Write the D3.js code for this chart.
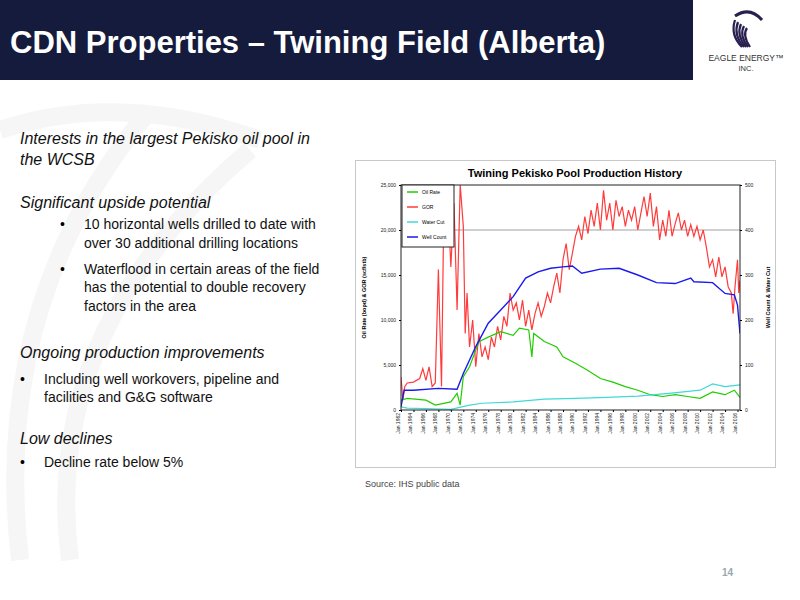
<!DOCTYPE html>
<html>
<head>
<meta charset="utf-8">
<script src="https://cdn.jsdelivr.net/npm/d3@7"></script>
<style>
  body { margin: 0; background: #fff; }
  svg { display: block; font-family: "Liberation Sans", Arial, sans-serif; }
</style>
</head>
<body>
<svg id="slide" width="800" height="600"></svg>
<script>
// Series: [year, value]
const oilRate = [[1962,1100],[1963,1300],[1966,1100],[1967.5,550],[1970,900],[1971,1850],[1971.5,550],[1972,3700],[1973,4800],[1974.5,7600],[1976,8100],[1978,8700],[1980,8300],[1981,9100],[1982.5,8900],[1983,5900],[1983.3,8500],[1985,7600],[1987,7000],[1988,5900],[1990,5200],[1992,4400],[1994,3500],[1996,3100],[1998,2600],[2000,2200],[2002,1700],[2004,1500],[2006,1700],[2008,1500],[2010,1300],[2012,2000],[2014,1700],[2015.5,2200],[2016.4,1400]];
const gor = [[1962,3700],[1962.3,1100],[1962.6,2600],[1963,3000],[1964,3100],[1965,3500],[1965.5,4600],[1966,3300],[1966.5,4800],[1967,2600],[1967.5,3000],[1968,15600],[1968.5,2600],[1968.8,18500],[1969,20400],[1969.5,23700],[1970,15900],[1970.5,23000],[1971,11100],[1971.5,25000],[1972,20400],[1972.3,8500],[1972.6,13000],[1973,7000],[1973.5,10000],[1974,4800],[1974.5,8500],[1975,5900],[1975.5,7000],[1976,5600],[1976.5,8100],[1977,7000],[1977.5,9300],[1978,7800],[1978.5,10400],[1979,9300],[1979.5,13000],[1980,11100],[1980.5,11900],[1981,10000],[1981.5,12200],[1982,9300],[1982.5,11100],[1983,8900],[1983.5,10700],[1984,11900],[1984.5,10400],[1985,11500],[1985.5,13000],[1986,11900],[1986.5,13700],[1987,15200],[1987.5,13000],[1988,16700],[1988.5,18500],[1989,15600],[1989.5,17400],[1990,19300],[1990.5,20400],[1991,18900],[1991.5,21500],[1992,19600],[1992.5,22200],[1993,20400],[1993.5,23000],[1994,20000],[1994.5,24400],[1995,21100],[1995.5,23000],[1996,20000],[1996.5,23300],[1997,21500],[1997.5,22600],[1998,20400],[1998.5,22200],[1999,21100],[1999.5,22600],[2000,20000],[2000.5,21900],[2001,23700],[2001.5,21500],[2002,24100],[2002.5,20400],[2003,22600],[2003.5,18900],[2004,21100],[2004.5,19300],[2005,22200],[2005.5,19300],[2006,20700],[2006.5,21900],[2007,20000],[2007.5,21100],[2008,19300],[2008.5,20600],[2009,19300],[2009.5,20400],[2010,18900],[2010.5,20000],[2011,18100],[2011.5,15900],[2012,16700],[2012.5,14800],[2013,17000],[2013.5,14800],[2014,15900],[2014.5,13700],[2015,13000],[2015.3,10700],[2015.6,13700],[2016,16700],[2016.2,13000],[2016.4,14400]];
const waterCut = [[1962,7],[1963,4],[1970,1.5],[1973,11],[1975,15],[1980,18],[1985,24],[1990,26],[1995,28],[2000,31],[2005,37],[2010,44],[2012,58],[2014,52],[2016.4,56]];
const wellCount = [[1962,7],[1962.5,44],[1964,44],[1968,48],[1971,46],[1972,81],[1974,141],[1976,193],[1978,222],[1980,252],[1982,293],[1984,307],[1986,315],[1988,318],[1989.5,320],[1991,304],[1994,313],[1997,315],[2000,300],[2003,283],[2006,281],[2008.5,293],[2009,285],[2012,283],[2014,259],[2015.5,256],[2016,233],[2016.4,170]];
const leftTicks = [0, 5000, 10000, 15000, 20000, 25000];
const rightTicks = [0, 100, 200, 300, 400, 500];
const yearTicks = d3.range(1962, 2017, 2);
const legendNames = ["Oil Rate", "GOR", "Water Cut", "Well Count"];
const legendColors = ["#22cc00", "#ff3b3b", "#40d8d8", "#1a1aee"];

const svg = d3.select("#slide");

// header band
svg.append("rect").attr("width", 693).attr("height", 80).attr("fill", "#141b3c");
svg.append("text").attr("x", 10).attr("y", 53).attr("fill", "#fff")
  .attr("font-size", 31).attr("font-weight", "bold")
  .text("CDN Properties \u2013 Twining Field (Alberta)");
svg.append("text").attr("x", 746).attr("y", 61).attr("text-anchor", "middle")
  .attr("font-size", 8.5).attr("fill", "#333").text("EAGLE ENERGY\u2122");
svg.append("text").attr("x", 746).attr("y", 71).attr("text-anchor", "middle")
  .attr("font-size", 7.5).attr("fill", "#333").text("INC.");
// simple eagle mark
const eagle = svg.append("g").attr("fill", "none").attr("stroke", "#2a2050").attr("stroke-width", 2.2);
[0, 1, 2, 3, 4].forEach(i => {
  eagle.append("path").attr("d", `M${735 + i * 3},${20 + i * 2} Q${730 + i * 3},${35} ${742 + i * 2},${47}`);
});
eagle.append("path").attr("d", "M735,16 Q750,6 762,20").attr("stroke-width", 3);

// faint watermark arcs
const wm = svg.append("g").attr("fill", "none").attr("stroke", "#f6f6f6").attr("stroke-width", 18);
wm.append("path").attr("d", "M20,560 Q-10,300 150,110");
wm.append("path").attr("d", "M70,560 Q40,330 250,150");
wm.append("path").attr("d", "M0,130 Q120,90 260,140");

// body text
const txt = [
  { x: 20, y: 144, t: "Interests in the largest Pekisko oil pool in", it: true },
  { x: 20, y: 165, t: "the WCSB", it: true },
  { x: 20, y: 208, t: "Significant upside potential", it: true },
  { x: 84, y: 229, t: "10 horizontal wells drilled to date with", b: 60 },
  { x: 84, y: 248, t: "over 30 additional drilling locations" },
  { x: 84, y: 274, t: "Waterflood in certain areas of the field", b: 60 },
  { x: 84, y: 292, t: "has the potential to double recovery" },
  { x: 84, y: 311, t: "factors in the area" },
  { x: 20, y: 358, t: "Ongoing production improvements", it: true },
  { x: 44, y: 384, t: "Including well workovers, pipeline and", b: 20 },
  { x: 44, y: 402, t: "facilities and G&G software" },
  { x: 20, y: 444, t: "Low declines", it: true },
  { x: 44, y: 467, t: "Decline rate below 5%", b: 20 }
];
txt.forEach(d => {
  svg.append("text").attr("x", d.x).attr("y", d.y).attr("fill", "#111")
    .attr("font-size", d.it ? 16 : 14).attr("font-style", d.it ? "italic" : "normal")
    .text(d.t);
  if (d.b) svg.append("text").attr("x", d.b).attr("y", d.y).attr("font-size", 14).text("\u2022");
});

// chart frame
svg.append("rect").attr("x", 355.5).attr("y", 160.5).attr("width", 420).attr("height", 307)
  .attr("fill", "#fff").attr("stroke", "#c8c8c8");
svg.append("text").attr("x", 575).attr("y", 177).attr("text-anchor", "middle")
  .attr("font-size", 11).attr("font-weight", "bold").text("Twining Pekisko Pool Production History");

const L = 401, R = 740, T = 185, B = 410;
const x = d3.scaleLinear().domain([1962, 2016.4]).range([L, R]);
const yL = d3.scaleLinear().domain([0, 25000]).range([B, T]);
const yR = d3.scaleLinear().domain([0, 500]).range([B, T]);

svg.append("line").attr("x1", L).attr("x2", R).attr("y1", yL(20000)).attr("y2", yL(20000))
  .attr("stroke", "#888").attr("stroke-width", 0.8);

svg.append("clipPath").attr("id", "pc").append("rect")
  .attr("x", L).attr("y", T).attr("width", R - L).attr("height", B - T);
const plot = svg.append("g").attr("clip-path", "url(#pc)");
const lineL = d3.line().x(d => x(d[0])).y(d => yL(d[1]));
const lineR = d3.line().x(d => x(d[0])).y(d => yR(d[1]));
plot.append("path").datum(gor).attr("d", lineL).attr("fill", "none").attr("stroke", legendColors[1]).attr("stroke-width", 1.2);
plot.append("path").datum(oilRate).attr("d", lineL).attr("fill", "none").attr("stroke", legendColors[0]).attr("stroke-width", 1.2);
plot.append("path").datum(waterCut).attr("d", lineR).attr("fill", "none").attr("stroke", legendColors[2]).attr("stroke-width", 1.2);
plot.append("path").datum(wellCount).attr("d", lineR).attr("fill", "none").attr("stroke", legendColors[3]).attr("stroke-width", 1.4);

svg.append("rect").attr("x", L).attr("y", T).attr("width", R - L).attr("height", B - T)
  .attr("fill", "none").attr("stroke", "#222").attr("stroke-width", 1);

// axes
const axL = svg.append("g").attr("transform", `translate(${L},0)`)
  .call(d3.axisLeft(yL).tickValues(leftTicks).tickSize(2).tickFormat(d3.format(",")));
const axR = svg.append("g").attr("transform", `translate(${R},0)`)
  .call(d3.axisRight(yR).tickValues(rightTicks).tickSize(2).tickFormat(d3.format("d")));
const axB = svg.append("g").attr("transform", `translate(0,${B})`)
  .call(d3.axisBottom(x).tickValues(yearTicks).tickSize(2).tickFormat(d => "Jan " + d));
[axL, axR, axB].forEach(a => {
  a.select(".domain").remove();
  a.selectAll("text").attr("font-size", 5).attr("fill", "#222");
});
axB.selectAll("text").attr("transform", "rotate(-90)").attr("text-anchor", "end")
  .attr("dx", -3).attr("dy", -1.5).attr("x", 0).attr("y", 0);

svg.append("text").attr("transform", `translate(366,${(T + B) / 2}) rotate(-90)`)
  .attr("text-anchor", "middle").attr("font-size", 5.5).attr("font-weight", "bold")
  .text("Oil Rate (bopd) & GOR (scf/stb)");
svg.append("text").attr("transform", `translate(770,${(T + B) / 2}) rotate(-90)`)
  .attr("text-anchor", "middle").attr("font-size", 5.5).attr("font-weight", "bold")
  .text("Well Count & Water Cut");

// legend
const lg = svg.append("g").attr("transform", `translate(${L + 1},${T})`);
lg.append("rect").attr("width", 52).attr("height", 62).attr("fill", "#fff").attr("stroke", "#222");
legendNames.forEach((n, i) => {
  const yy = 7 + i * 15;
  lg.append("line").attr("x1", 5).attr("x2", 16).attr("y1", yy).attr("y2", yy)
    .attr("stroke", legendColors[i]).attr("stroke-width", 1.5);
  lg.append("text").attr("x", 20).attr("y", yy + 2).attr("font-size", 5).text(n);
});

svg.append("text").attr("x", 365).attr("y", 487).attr("font-size", 9).attr("fill", "#444")
  .text("Source: IHS public data");
svg.append("text").attr("x", 722).attr("y", 576).attr("font-size", 10).attr("font-weight", "bold")
  .attr("fill", "#9aa8b0").text("14");
</script>
</body>
</html>
